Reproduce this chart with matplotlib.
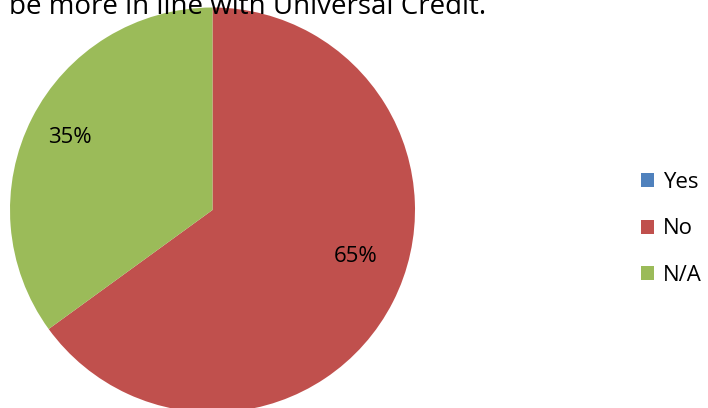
import matplotlib
matplotlib.use('Agg')
import matplotlib.pyplot as plt

# ─── Data ───
labels = ['Yes', 'No', 'N/A']
shares = [0, 65, 35]
colours = ['#4F81BD', '#C0504D', '#9BBB59']
title_tail = 'be more in line with Universal Credit.'

# label spots (Excel "best fit"), in pie radius units
label_spots = {'No': (0.709, -0.232), 'N/A': (-0.704, 0.356)}

plt.rcParams['font.family'] = ['Open Sans', 'DejaVu Sans']

fig = plt.figure(figsize=(7.08, 4.08), dpi=100)
ax = fig.add_axes([10 / 708, -4.5 / 408, 405 / 708, 405 / 408])


def pct_label(p):
    return f'{p:.0f}%' if p > 0 else ''


wedges, texts, autotexts = ax.pie(
    shares, colors=colours, startangle=90, counterclock=False,
    autopct=pct_label, pctdistance=0.76, radius=1.0,
    textprops={'fontsize': 16, 'color': 'black'},
)
for name, t in zip(labels, autotexts):
    if name in label_spots:
        t.set_position(label_spots[name])
ax.set_xlim(-1, 1)
ax.set_ylim(-1, 1)
ax.set_aspect('equal')

# title sits partly above the canvas, like the cropped original
fig.text(9 / 708, 1 - 14 / 408, title_tail, fontsize=20, ha='left',
         va='baseline', color='black', zorder=10)

leg = fig.legend(wedges, labels, loc='center left',
                 bbox_to_anchor=(621 / 708, 1 - 229 / 408),
                 frameon=False, fontsize=16, handlelength=0.6,
                 handleheight=0.6, labelspacing=1.14, handletextpad=0.4)

fig.savefig('out.png', dpi=100)
